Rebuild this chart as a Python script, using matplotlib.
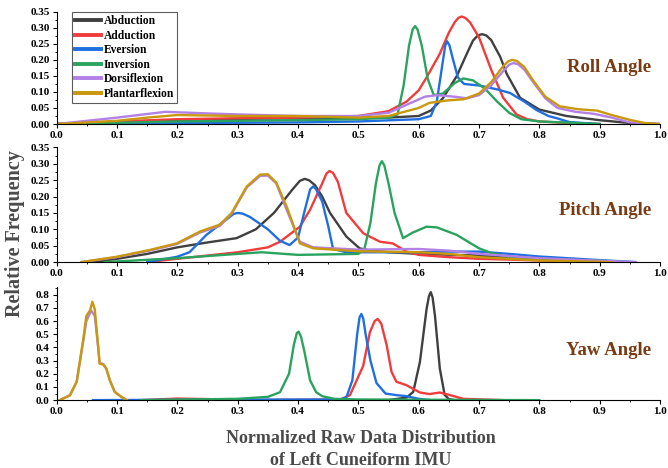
import matplotlib
matplotlib.use("Agg")
import matplotlib.pyplot as plt
from matplotlib.ticker import MultipleLocator, FormatStrFormatter

plt.rcParams["font.family"] = ["Liberation Serif", "DejaVu Serif"]
plt.rcParams["font.weight"] = "bold"

names = ["Abduction", "Adduction", "Eversion", "Inversion", "Dorsiflexion", "Plantarflexion"]
colors = ["#404040", "#f03c3c", "#1f6fe0", "#2aa35e", "#b380e6", "#c9980c"]

# ---- Roll angle ----
roll_abd_x = [0.0, 0.1, 0.2, 0.3, 0.4, 0.5, 0.55, 0.6, 0.62, 0.64, 0.663, 0.68, 0.69, 0.698, 0.705, 0.712, 0.72, 0.735, 0.746, 0.768, 0.8, 0.845, 0.9, 0.95, 1.0]
roll_abd_y = [0.0, 0.005, 0.012, 0.016, 0.018, 0.02, 0.02, 0.025, 0.042, 0.08, 0.149, 0.22, 0.26, 0.276, 0.28, 0.276, 0.262, 0.21, 0.156, 0.082, 0.045, 0.025, 0.012, 0.003, 0.0]
roll_add_x = [0.0, 0.1, 0.2, 0.3, 0.4, 0.5, 0.55, 0.58, 0.6, 0.613, 0.635, 0.65, 0.66, 0.666, 0.671, 0.677, 0.685, 0.70, 0.72, 0.74, 0.762, 0.78, 0.8, 0.85, 0.9]
roll_add_y = [0.0, 0.008, 0.015, 0.018, 0.02, 0.025, 0.04, 0.07, 0.105, 0.145, 0.219, 0.285, 0.318, 0.331, 0.335, 0.331, 0.317, 0.27, 0.17, 0.082, 0.03, 0.015, 0.008, 0.003, 0.0]
roll_eve_x = [0.0, 0.2, 0.4, 0.5, 0.6, 0.62, 0.63, 0.638, 0.644, 0.647, 0.651, 0.657, 0.665, 0.675, 0.685, 0.70, 0.73, 0.751, 0.775, 0.795, 0.815, 0.829, 0.85, 0.9]
roll_eve_y = [0.0, 0.003, 0.005, 0.008, 0.015, 0.025, 0.07, 0.17, 0.245, 0.258, 0.245, 0.2, 0.145, 0.125, 0.123, 0.12, 0.108, 0.097, 0.07, 0.044, 0.025, 0.018, 0.006, 0.0]
roll_inv_x = [0.0, 0.2, 0.4, 0.5, 0.55, 0.565, 0.575, 0.584, 0.59, 0.594, 0.598, 0.605, 0.615, 0.625, 0.64, 0.66, 0.674, 0.69, 0.71, 0.73, 0.75, 0.77, 0.8, 0.85, 0.9]
roll_inv_y = [0.0, 0.008, 0.012, 0.015, 0.02, 0.03, 0.12, 0.245, 0.295, 0.305, 0.295, 0.245, 0.14, 0.09, 0.095, 0.128, 0.142, 0.136, 0.11, 0.07, 0.035, 0.015, 0.008, 0.004, 0.0]
roll_dor_x = [0.0, 0.1, 0.18, 0.25, 0.3, 0.4, 0.5, 0.55, 0.58, 0.61, 0.63, 0.66, 0.68, 0.70, 0.72, 0.74, 0.75, 0.757, 0.765, 0.775, 0.79, 0.81, 0.83, 0.86, 0.89, 0.92, 0.95, 1.0]
roll_dor_y = [0.0, 0.02, 0.038, 0.033, 0.03, 0.025, 0.025, 0.035, 0.06, 0.085, 0.09, 0.085, 0.08, 0.09, 0.12, 0.165, 0.185, 0.19, 0.186, 0.17, 0.13, 0.08, 0.05, 0.038, 0.032, 0.02, 0.005, 0.0]
roll_pla_x = [0.0, 0.1, 0.15, 0.2, 0.3, 0.4, 0.5, 0.55, 0.6, 0.618, 0.65, 0.674, 0.70, 0.72, 0.74, 0.748, 0.755, 0.763, 0.775, 0.79, 0.81, 0.834, 0.865, 0.895, 0.92, 0.95, 0.975, 1.0]
roll_pla_y = [0.0, 0.01, 0.02, 0.028, 0.025, 0.025, 0.02, 0.025, 0.05, 0.066, 0.074, 0.077, 0.095, 0.13, 0.18, 0.195, 0.20, 0.196, 0.178, 0.135, 0.085, 0.055, 0.046, 0.042, 0.028, 0.013, 0.003, 0.0]

# ---- Pitch angle ----
pitch_abd_x = [0.06, 0.1, 0.15, 0.2, 0.25, 0.298, 0.33, 0.36, 0.39, 0.403, 0.411, 0.418, 0.428, 0.44, 0.453, 0.48, 0.502, 0.52, 0.55, 0.6, 0.7, 0.8, 0.9]
pitch_abd_y = [0.0, 0.01, 0.025, 0.045, 0.06, 0.073, 0.10, 0.15, 0.22, 0.248, 0.254, 0.25, 0.235, 0.20, 0.15, 0.078, 0.042, 0.035, 0.03, 0.025, 0.02, 0.01, 0.0]
pitch_add_x = [0.15, 0.2, 0.25, 0.3, 0.35, 0.37, 0.403, 0.42, 0.44, 0.447, 0.452, 0.458, 0.466, 0.48, 0.508, 0.536, 0.557, 0.58, 0.6, 0.65, 0.7, 0.8, 0.9]
pitch_add_y = [0.0, 0.01, 0.02, 0.03, 0.045, 0.062, 0.108, 0.16, 0.24, 0.27, 0.278, 0.272, 0.245, 0.15, 0.088, 0.062, 0.057, 0.032, 0.022, 0.015, 0.01, 0.005, 0.0]
pitch_eve_x = [0.15, 0.199, 0.22, 0.248, 0.28, 0.293, 0.30, 0.308, 0.32, 0.35, 0.37, 0.386, 0.40, 0.41, 0.42, 0.425, 0.43, 0.44, 0.45, 0.458, 0.48, 0.55, 0.6, 0.65, 0.7, 0.75, 0.8, 0.9, 0.96]
pitch_eve_y = [0.0, 0.016, 0.03, 0.083, 0.128, 0.147, 0.15, 0.148, 0.138, 0.10, 0.065, 0.052, 0.075, 0.15, 0.222, 0.231, 0.222, 0.185, 0.11, 0.04, 0.03, 0.03, 0.03, 0.032, 0.032, 0.025, 0.017, 0.006, 0.0]
pitch_inv_x = [0.08, 0.2, 0.3, 0.34, 0.4, 0.5, 0.51, 0.52, 0.529, 0.535, 0.539, 0.543, 0.55, 0.56, 0.574, 0.59, 0.613, 0.63, 0.663, 0.70, 0.72, 0.75, 0.8, 0.9, 0.95]
pitch_inv_y = [0.0, 0.012, 0.025, 0.03, 0.022, 0.025, 0.04, 0.12, 0.24, 0.295, 0.308, 0.295, 0.24, 0.15, 0.073, 0.09, 0.108, 0.106, 0.083, 0.042, 0.028, 0.015, 0.01, 0.004, 0.0]
pitch_dor_x = [0.041, 0.099, 0.154, 0.199, 0.237, 0.27, 0.29, 0.315, 0.337, 0.35, 0.364, 0.381, 0.403, 0.425, 0.5, 0.6, 0.65, 0.7, 0.8, 0.9, 0.96]
pitch_dor_y = [0.0, 0.015, 0.035, 0.055, 0.09, 0.11, 0.148, 0.228, 0.263, 0.264, 0.24, 0.16, 0.062, 0.045, 0.038, 0.04, 0.035, 0.025, 0.012, 0.004, 0.0]
pitch_pla_x = [0.041, 0.099, 0.154, 0.199, 0.237, 0.27, 0.29, 0.315, 0.337, 0.35, 0.364, 0.381, 0.403, 0.425, 0.5, 0.6, 0.65, 0.7, 0.8, 0.92]
pitch_pla_y = [0.0, 0.016, 0.037, 0.057, 0.093, 0.114, 0.15, 0.231, 0.267, 0.268, 0.242, 0.17, 0.057, 0.042, 0.033, 0.03, 0.025, 0.015, 0.005, 0.0]

# ---- Yaw angle ----
yaw_abd_x = [0.55, 0.58, 0.591, 0.602, 0.613, 0.617, 0.62, 0.623, 0.627, 0.635, 0.643, 0.65, 0.66]
yaw_abd_y = [0.0, 0.02, 0.063, 0.29, 0.69, 0.79, 0.82, 0.78, 0.64, 0.24, 0.04, 0.008, 0.0]
yaw_add_x = [0.14, 0.2, 0.25, 0.3, 0.47, 0.486, 0.508, 0.519, 0.527, 0.532, 0.538, 0.547, 0.555, 0.563, 0.58, 0.602, 0.618, 0.635, 0.652, 0.674, 0.74]
yaw_add_y = [0.0, 0.012, 0.008, 0.0, 0.005, 0.038, 0.26, 0.515, 0.6, 0.617, 0.58, 0.415, 0.214, 0.14, 0.113, 0.058, 0.046, 0.058, 0.038, 0.01, 0.0]
yaw_eve_x = [0.06, 0.2, 0.47, 0.48, 0.49, 0.498, 0.502, 0.505, 0.508, 0.512, 0.52, 0.53, 0.545, 0.563, 0.58, 0.6, 0.62]
yaw_eve_y = [0.0, 0.003, 0.005, 0.02, 0.15, 0.5, 0.63, 0.654, 0.62, 0.5, 0.3, 0.13, 0.05, 0.038, 0.03, 0.01, 0.0]
yaw_inv_x = [0.14, 0.3, 0.35, 0.37, 0.385, 0.393, 0.398, 0.401, 0.405, 0.41, 0.42, 0.43, 0.44, 0.46, 0.5, 0.8]
yaw_inv_y = [0.0, 0.01, 0.025, 0.06, 0.2, 0.42, 0.51, 0.52, 0.48, 0.38, 0.15, 0.06, 0.03, 0.01, 0.005, 0.0]
yaw_dor_x = [0.005, 0.022, 0.033, 0.044, 0.049, 0.057, 0.063, 0.069, 0.071, 0.077, 0.082, 0.088, 0.096, 0.107, 0.116]
yaw_dor_y = [0.0, 0.038, 0.14, 0.45, 0.6, 0.68, 0.64, 0.38, 0.28, 0.275, 0.24, 0.15, 0.063, 0.025, 0.0]
yaw_pla_x = [0.005, 0.022, 0.033, 0.044, 0.049, 0.055, 0.059, 0.063, 0.069, 0.071, 0.077, 0.082, 0.088, 0.096, 0.107, 0.116]
yaw_pla_y = [0.0, 0.038, 0.14, 0.466, 0.64, 0.68, 0.747, 0.69, 0.39, 0.277, 0.27, 0.24, 0.15, 0.063, 0.025, 0.0]

panels = [
    ("Roll Angle", 0.35, 0.05, 0.50, [(roll_abd_x, roll_abd_y), (roll_add_x, roll_add_y), (roll_eve_x, roll_eve_y),
                                      (roll_inv_x, roll_inv_y), (roll_dor_x, roll_dor_y), (roll_pla_x, roll_pla_y)]),
    ("Pitch Angle", 0.35, 0.05, 0.45, [(pitch_abd_x, pitch_abd_y), (pitch_add_x, pitch_add_y), (pitch_eve_x, pitch_eve_y),
                                       (pitch_inv_x, pitch_inv_y), (pitch_dor_x, pitch_dor_y), (pitch_pla_x, pitch_pla_y)]),
    ("Yaw Angle", 0.86, 0.1, 0.44, [(yaw_abd_x, yaw_abd_y), (yaw_add_x, yaw_add_y), (yaw_eve_x, yaw_eve_y),
                                    (yaw_inv_x, yaw_inv_y), (yaw_dor_x, yaw_dor_y), (yaw_pla_x, yaw_pla_y)]),
]

fig = plt.figure(figsize=(6.68, 4.68), dpi=100)
boxes = [[0.085, 0.735, 0.903, 0.240], [0.085, 0.440, 0.903, 0.245], [0.085, 0.145, 0.903, 0.242]]
label_color = "#7a3a12"

for box, (title, ymax, ystep, ty, series) in zip(boxes, panels):
    ax = fig.add_axes(box)
    for (xs, ys), c, n in zip(series, colors, names):
        ax.plot(xs, ys, color=c, lw=1.7, label=n, solid_joinstyle="round")
    ax.set_xlim(0, 1.0)
    ax.set_ylim(0, ymax)
    ax.xaxis.set_major_locator(MultipleLocator(0.1))
    ax.xaxis.set_minor_locator(MultipleLocator(0.05))
    ax.yaxis.set_major_locator(MultipleLocator(ystep))
    ax.yaxis.set_minor_locator(MultipleLocator(ystep / 2))
    ax.spines["top"].set_visible(False)
    ax.spines["right"].set_visible(False)
    ax.tick_params(which="major", length=3, width=0.8, labelsize=8, pad=2)
    ax.tick_params(which="minor", length=1.5, width=0.6)
    ax.xaxis.set_major_formatter(FormatStrFormatter("%.1f"))
    ax.yaxis.set_major_formatter(FormatStrFormatter("%.2f" if ystep < 0.1 else "%.1f"))
    for lab in ax.get_xticklabels() + ax.get_yticklabels():
        lab.set_fontweight("bold")
    ax.text(0.985, ty, title, transform=ax.transAxes, ha="right", va="center",
            fontsize=13.5, fontweight="bold", color=label_color)
    if title == "Roll Angle":
        leg = ax.legend(loc="upper left", bbox_to_anchor=(0.025, 1.0),
                        handlelength=2.2, handletextpad=0.25, labelspacing=0.22,
                        borderpad=0.3, borderaxespad=0.0, fancybox=False, edgecolor="#333333",
                        prop={"weight": "bold", "size": 8.3})
        leg.get_frame().set_linewidth(0.8)
        for line in leg.get_lines():
            line.set_linewidth(2.8)

fig.text(0.022, 0.50, "Relative Frequency", rotation=90, ha="center", va="center",
         fontsize=14.5, fontweight="bold", color="#4a4a4a")
fig.text(0.54, 0.04, "Normalized Raw Data Distribution\nof Left Cuneiform IMU", ha="center", va="center",
         fontsize=13, fontweight="bold", color="#4a4a4a", linespacing=1.35)

fig.savefig("out.png", dpi=100)
